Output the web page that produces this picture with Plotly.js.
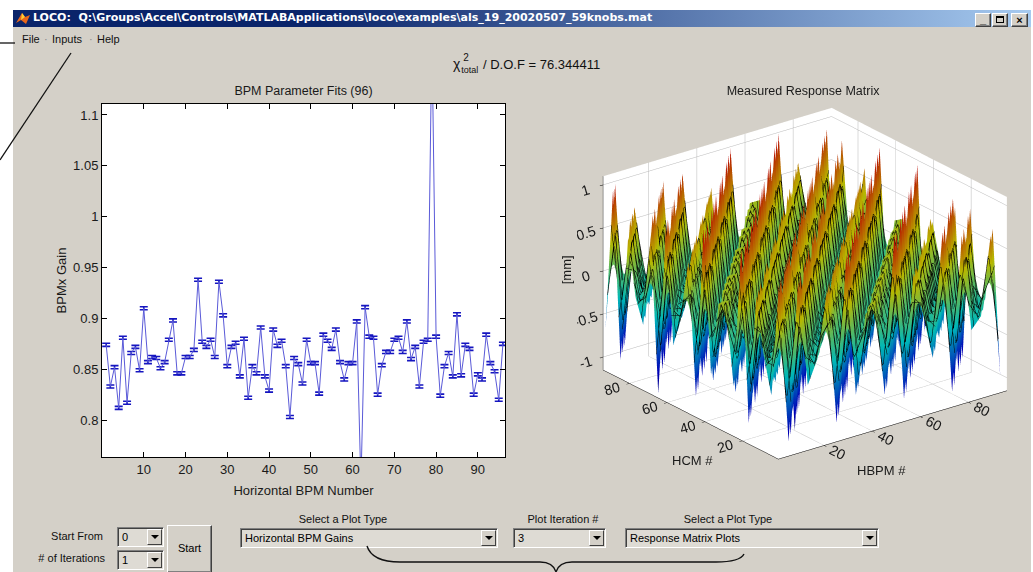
<!DOCTYPE html>
<html>
<head>
<meta charset="utf-8">
<script src="https://cdn.plot.ly/plotly-3.0.1.min.js"></script>
<style>
  body { margin:0; width:1033px; height:572px; position:relative; overflow:hidden; background:#fff;
         font-family:'Liberation Sans', Arial, sans-serif; }
  .abs { position:absolute; }
  .lbl { position:absolute; font-size:11px; color:#111; white-space:nowrap; }
  .dd { position:absolute; box-sizing:border-box; background:#dedbd4;
        border-top:1px solid #808080; border-left:1px solid #808080; border-bottom:1px solid #fff; border-right:1px solid #fff;
        box-shadow: inset 1px 1px 0 #404040; font-size:11px; color:#000; padding-left:4px; white-space:nowrap; }
  .arr { position:absolute; right:1px; top:1px; bottom:1px; width:15px; box-sizing:border-box; background:#d4d0c8;
         border-top:1px solid #fff; border-left:1px solid #fff; border-bottom:1px solid #404040; border-right:1px solid #404040; }
  .arr:after { content:''; position:absolute; left:3px; top:5px; border-left:4px solid transparent; border-right:4px solid transparent; border-top:4px solid #000; }
  .btn { position:absolute; box-sizing:border-box; background:#d4d0c8;
         border-top:1px solid #fff; border-left:1px solid #fff; border-bottom:1px solid #404040; border-right:1px solid #404040;
         box-shadow: inset -1px -1px 0 #808080; font-size:11px; text-align:center; }
</style>
</head>
<body>
<div class="abs" style="left:13px; top:10px; width:1018px; height:562px; background:#d4d0c8;"></div>
<div class="abs" style="left:13px; top:10px; width:1018px; height:17px; background:linear-gradient(to right,#0a246a 0%,#0a246a 30%,#a6caf0 100%);"></div>
<svg class="abs" style="left:15px; top:11px;" width="16" height="15" viewBox="0 0 16 15">
  <polygon points="1,12 7,2 10,6 15,4 11,13 6,9" fill="#e8661a"/>
  <polygon points="7,2 10,6 6,9" fill="#ffcc33"/>
</svg>
<div class="abs" style="left:33px; top:11px; font:bold 11px 'DejaVu Sans', Verdana, sans-serif; color:#fff; white-space:nowrap; letter-spacing:0px;">LOCO:&nbsp; Q:\Groups\Accel\Controls\MATLABApplications\loco\examples\als_19_20020507_59knobs.mat</div>
<div class="btn" style="left:975px; top:13px; width:16px; height:14px; font-weight:bold; line-height:10px;">_</div>
<div class="btn" style="left:992px; top:13px; width:16px; height:14px;"><div class="abs" style="left:3px; top:2px; width:8px; height:7px; border:1px solid #000; border-top-width:2px; box-sizing:border-box;"></div></div>
<div class="btn" style="left:1011px; top:13px; width:17px; height:14px; font-weight:bold; line-height:12px; font-size:11px;">×</div>
<div class="lbl" style="left:22px; top:33px;">File</div>
<div class="lbl" style="left:44px; top:33px; color:#888;">·</div>
<div class="lbl" style="left:52px; top:33px;">Inputs</div>
<div class="lbl" style="left:89px; top:33px; color:#888;">·</div>
<div class="lbl" style="left:97px; top:33px;">Help</div>
<div class="abs" style="left:453px; top:56px; font-size:13px; color:#111; white-space:nowrap;">
  <span style="font-size:14px;">χ</span><span style="position:relative; display:inline-block; width:19px; height:14px; vertical-align:top;">
    <span style="position:absolute; left:3px; top:-4px; font-size:10px;">2</span>
    <span style="position:absolute; left:1px; top:9px; font-size:9px;">total</span></span> / D.O.F = 76.344411
</div>

<div id="left" class="abs" style="left:30px; top:78px; width:490px; height:420px;"></div>
<div id="right" class="abs" style="left:555px; top:78px; width:478px; height:420px;"></div>

<div class="lbl" style="left:40px; top:530px; width:63px; text-align:right;">Start From</div>
<div class="lbl" style="left:20px; top:552px; width:85px; text-align:right;"># of Iterations</div>
<div class="dd" style="left:117px; top:527px; width:47px; height:20px; line-height:18px;">0<div class="arr"></div></div>
<div class="dd" style="left:117px; top:550px; width:47px; height:20px; line-height:18px;">1<div class="arr"></div></div>
<div class="btn" style="left:167px; top:525px; width:45px; height:48px; line-height:44px;">Start</div>
<div class="lbl" style="left:243px; top:513px; width:200px; text-align:center;">Select a Plot Type</div>
<div class="dd" style="left:240px; top:528px; width:258px; height:20px; line-height:18px;">Horizontal BPM Gains<div class="arr"></div></div>
<div class="lbl" style="left:503px; top:513px; width:120px; text-align:center;">Plot Iteration #</div>
<div class="dd" style="left:513px; top:528px; width:93px; height:20px; line-height:18px;">3<div class="arr"></div></div>
<div class="lbl" style="left:628px; top:513px; width:200px; text-align:center;">Select a Plot Type</div>
<div class="dd" style="left:625px; top:528px; width:254px; height:20px; line-height:18px;">Response Matrix Plots<div class="arr"></div></div>

<svg class="abs" style="left:0; top:0; pointer-events:none;" width="1033" height="572">
  <line x1="0" y1="43" x2="15" y2="43" stroke="#111" stroke-width="1.3"/>
  <line x1="71" y1="53" x2="0" y2="160" stroke="#111" stroke-width="1.3"/>
  <path d="M367 546 Q372 562 400 562 L540 562 Q553 562 556 572 Q559 562 572 562 L716 562 Q740 562 744 554" fill="none" stroke="#111" stroke-width="1.4"/>
</svg>

<script>
// ---------- Left chart data: BPM gains ----------
var bpmNumber = [1,2,3,4,5,6,7,8,9,10,11,12,13,14,15,16,17,18,19,20,21,22,23,24,25,26,27,28,29,30,31,32,
  33,34,35,36,37,38,39,40,41,42,43,44,45,46,47,48,49,50,51,52,53,54,55,56,57,58,59,60,61,62,63,64,
  65,66,67,68,69,70,71,72,73,74,75,76,77,78,79,80,81,82,83,84,85,86,87,88,89,90,91,92,93,94,95,96];
var bpmGain = [0.874,0.833,0.852,0.812,0.881,0.817,0.866,0.872,0.849,0.910,0.857,0.862,0.861,0.851,0.857,0.879,
  0.898,0.846,0.846,0.862,0.862,0.869,0.938,0.877,0.872,0.879,0.862,0.936,0.903,0.853,0.872,0.876,
  0.843,0.880,0.822,0.853,0.846,0.891,0.843,0.829,0.889,0.873,0.878,0.853,0.803,0.861,0.855,0.836,
  0.879,0.856,0.856,0.826,0.884,0.878,0.870,0.889,0.857,0.840,0.856,0.856,0.897,0.737,0.911,0.882,
  0.881,0.825,0.854,0.867,0.867,0.879,0.881,0.867,0.897,0.860,0.872,0.833,0.877,0.879,1.180,0.882,
  0.824,0.853,0.866,0.843,0.904,0.844,0.874,0.870,0.825,0.845,0.840,0.884,0.856,0.848,0.820,0.875];
var gainError = 0.0015;
var xTickVals = [10,20,30,40,50,60,70,80,90];
var yTickVals = [0.8,0.85,0.9,0.95,1,1.05,1.1];
var yTickText = ['0.8','0.85','0.9','0.95','1','1.05','1.1'];

// ---------- Right chart data: measured response matrix (estimated, coarse grid) ----------
var hbpm = [2,6,10,14,18,22,26,30,34,38,42,46,50,54,58,62,66,70,74,78,82,86,90,94];
var hcm  = [2,6,10,14,18,22,26,30,34,38,42,46,50,54,58,62,66,70,74,78,82,86,90,94];
var respMatrix = [
 [0.87,-1.0,0.83,-0.41,-0.14,0.64,-0.95,0.97,-0.69,0.21,0.34,-0.79,1.05,-0.90,0.53,0.0,-0.53,0.90,-0.99,0.79,-0.34,-0.21,0.69,-0.97],
 [-0.47,0.87,-1.0,0.83,-0.41,-0.14,0.64,-0.95,0.97,-0.69,0.21,0.34,-0.79,0.99,-0.90,0.53,0.0,-0.53,0.90,-0.99,0.79,-0.34,-0.21,0.69],
 [-0.06,-0.38,0.70,-0.80,0.66,-0.33,-0.11,0.51,-0.76,0.78,-0.55,0.17,0.27,-0.63,0.79,-0.72,0.42,0.0,-0.42,0.72,-0.79,0.63,-0.27,-0.17],
 [0.59,-0.07,-0.47,0.87,-1.1,0.83,-0.41,-0.14,0.64,-0.95,0.97,-0.69,0.21,0.34,-0.79,0.99,-0.90,0.53,0.0,-0.53,0.90,-0.99,0.79,-0.34],
 [-0.93,0.59,-0.07,-0.47,0.87,-1.0,0.83,-0.41,-0.14,0.64,-0.95,0.97,-0.69,0.21,0.34,-0.79,0.99,-0.90,0.53,0.0,-0.53,0.90,-0.99,0.79],
 [1.05,-0.93,0.59,-0.07,-0.47,0.87,-1.0,0.83,-0.41,-0.14,0.64,-0.95,0.97,-0.69,0.21,0.34,-0.79,0.99,-0.90,0.53,0.0,-0.53,0.90,-0.99],
 [-0.59,0.78,-0.74,0.47,-0.06,-0.38,0.70,-0.80,0.66,-0.33,-0.11,0.51,-0.76,0.78,-0.55,0.17,0.27,-0.63,0.79,-0.72,0.42,0.0,-0.42,0.72],
 [0.28,-0.74,0.98,-0.93,0.59,-0.07,-0.47,0.87,-1.0,0.83,-0.41,-0.14,0.64,-0.95,0.97,-0.69,0.21,0.34,-0.79,0.99,-0.90,0.53,0.0,-0.53],
 [0.28,0.28,-0.74,0.98,-0.93,0.59,-0.07,-0.47,0.87,-1.0,0.83,-0.41,-0.14,0.64,-0.95,0.97,-0.69,0.21,0.34,-0.79,0.99,-0.90,0.53,0.0],
 [-0.59,0.22,0.22,-0.59,0.78,-0.74,0.47,-0.06,-0.38,0.70,-0.80,0.66,-0.33,-0.11,0.51,-0.76,0.78,-0.55,0.17,0.27,-0.63,0.79,-0.72,0.42],
 [1.06,-0.74,0.28,0.28,-0.74,0.98,-0.93,0.59,-0.07,-0.47,0.87,-1.0,0.83,-0.41,-0.14,0.64,-0.95,0.97,-0.69,0.21,0.34,-0.79,0.99,-0.90],
 [-0.93,0.98,-0.74,0.28,0.28,-0.74,0.98,-0.93,0.59,-0.07,-0.47,0.87,-1.0,0.83,-0.41,-0.14,0.64,-0.95,0.97,-0.69,0.21,0.34,-0.79,0.99],
 [0.59,-0.93,0.98,-0.74,0.28,0.28,-0.74,0.98,-0.93,0.59,-0.07,-0.47,0.87,-1.0,0.83,-0.41,-0.14,0.64,-0.95,0.97,-0.69,0.21,0.34,-0.79],
 [-0.06,0.47,-0.74,0.78,-0.59,0.22,0.22,-0.59,0.78,-0.74,0.47,-0.06,-0.38,0.70,-0.80,0.66,-0.33,-0.11,0.51,-0.76,0.78,-0.55,0.17,0.27],
 [-0.47,-0.07,0.59,-0.93,0.98,-0.74,0.28,0.28,-0.74,0.98,-0.93,0.59,-0.07,-0.47,0.87,-1.0,0.83,-0.41,-0.14,0.64,-0.95,0.97,-0.69,0.21],
 [0.87,-0.47,-0.07,0.59,-0.93,0.98,-0.74,0.28,0.28,-0.74,0.98,-0.93,0.59,-0.07,-0.47,0.87,-1.0,0.83,-0.41,-0.14,0.64,-0.95,0.97,-0.69],
 [-1.12,0.87,-0.47,-0.07,0.59,-0.93,0.98,-0.74,0.28,0.28,-0.74,0.98,-0.93,0.59,-0.07,-0.47,0.87,-1.0,0.83,-0.41,-0.14,0.64,-0.95,0.97],
 [0.66,-0.80,0.70,-0.38,-0.06,0.47,-0.74,0.78,-0.59,0.22,0.22,-0.59,0.78,-0.74,0.47,-0.06,-0.38,0.70,-0.80,0.66,-0.33,-0.11,0.51,-0.76],
 [-0.41,0.83,-1.0,0.87,-0.47,-0.07,0.59,-0.93,0.98,-0.74,0.28,0.28,-0.74,0.98,-0.93,0.59,-0.07,-0.47,0.87,-1.0,0.83,-0.41,-0.14,0.64],
 [-0.14,-0.41,0.83,-1.0,0.87,-0.47,-0.07,0.59,-0.93,0.98,-0.74,0.28,0.28,-0.74,0.98,-0.93,0.59,-0.07,-0.47,0.87,-1.0,0.83,-0.41,-0.14],
 [0.51,-0.11,-0.33,0.66,-0.86,0.70,-0.38,-0.06,0.47,-0.74,0.78,-0.59,0.22,0.22,-0.59,0.78,-0.74,0.47,-0.06,-0.38,0.70,-0.80,0.66,-0.33],
 [-0.95,0.64,-0.14,-0.41,0.83,-1.0,0.87,-0.47,-0.07,0.59,-0.93,0.98,-0.74,0.28,0.28,-0.74,0.98,-0.93,0.59,-0.07,-0.47,0.87,-1.0,0.83],
 [0.97,-0.95,0.64,-0.14,-0.41,0.83,-1.0,0.87,-0.47,-0.07,0.59,-0.93,0.98,-0.74,0.28,0.28,-0.74,0.98,-0.93,0.59,-0.07,-0.47,0.87,-1.0],
 [-0.69,0.97,-0.95,0.64,-0.14,-0.41,0.83,-1.0,0.87,-0.47,-0.07,0.59,-0.93,0.98,-0.74,0.28,0.28,-0.74,0.98,-0.93,0.59,-0.07,-0.47,0.87]
];
var axTicks3d = [20,40,60,80];
var zTickVals = [-1,-0.5,0,0.5,1];
var zTickText = ['-1','-0.5','0','0.5','1'];

var FONT = 'Liberation Sans, Arial, sans-serif';

Plotly.newPlot('left', [{
  type:'scatter', mode:'lines', x:bpmNumber, y:bpmGain,
  line:{color:'#5a5ad8', width:1},
  error_y:{type:'constant', value:gainError, visible:true, color:'#1515c0', thickness:1.6, width:4},
  hoverinfo:'skip'
}], {
  width:490, height:420, margin:{l:72, r:15, t:26, b:41, pad:0},
  paper_bgcolor:'rgba(0,0,0,0)', plot_bgcolor:'#ffffff', showlegend:false,
  font:{family:FONT, size:13, color:'#1a1a1a'},
  title:{text:'BPM Parameter Fits (96)', x:0.5, xref:'paper', xanchor:'center', y:0.971, yref:'container', yanchor:'middle', font:{size:12.5, color:'#1a1a1a'}},
  xaxis:{range:[0,96.5], tickvals:xTickVals, ticks:'inside', ticklen:5, tickcolor:'#000', showline:true, mirror:'ticks',
         linecolor:'#000', linewidth:1, showgrid:false, zeroline:false, tickfont:{size:13},
         title:{text:'Horizontal BPM Number', font:{size:13}}},
  yaxis:{range:[0.7637,1.1108], tickvals:yTickVals, ticktext:yTickText, ticks:'inside', ticklen:5, tickcolor:'#000', showline:true, mirror:'ticks',
         linecolor:'#000', linewidth:1, showgrid:false, zeroline:false, tickfont:{size:13},
         title:{text:'BPMx Gain', font:{size:13}}}
}, {staticPlot:true, displayModeBar:false});

var jet = [[0,'#00008f'],[0.125,'#0000ff'],[0.375,'#00ffff'],[0.625,'#ffff00'],[0.875,'#ff0000'],[1,'#800000']];
var ax3 = function(range, tv, tt){
  return {title:{text:''}, range:range, tickvals:tv, ticktext:tt,
    tickfont:{size:13, color:'#1a1a1a'}, showbackground:true, backgroundcolor:'#ffffff',
    gridcolor:'#b8b8b8', gridwidth:1, showline:true, linecolor:'#000', linewidth:1, zeroline:false,
    showspikes:false, ticks:'outside', ticklen:4, tickcolor:'#000'};
};
Plotly.newPlot('right', [{
  type:'surface', x:hbpm, y:hcm, z:respMatrix, colorscale:jet, cmin:-1.2, cmax:1.3, showscale:false,
  lighting:{ambient:0.72, diffuse:0, specular:0, roughness:1, fresnel:0},
  contours:{x:{show:true, start:1, end:96, size:2, color:'#000', width:2, highlight:false},
            y:{show:true, start:1, end:94, size:2, color:'#000', width:2, highlight:false}, z:{highlight:false}},
  hoverinfo:'skip'
}], {
  width:478, height:420, margin:{l:0, r:0, t:0, b:0}, hovermode:false,
  paper_bgcolor:'rgba(0,0,0,0)', font:{family:FONT, size:13, color:'#1a1a1a'},
  title:{text:'Measured Response Matrix', x:0.519, xref:'paper', xanchor:'center', y:0.971, yref:'container', yanchor:'middle', font:{size:12.5}},
  annotations:[
    {text:'HCM #', xref:'paper', yref:'paper', x:0.241, y:0.067, showarrow:false, font:{size:13}},
    {text:'HBPM #', xref:'paper', yref:'paper', x:0.738, y:0.043, showarrow:false, font:{size:13}},
    {text:'[mm]', xref:'paper', yref:'paper', x:0.006, y:0.543, showarrow:false, textangle:-90, font:{size:13}}
  ],
  scene:{
    domain:{x:[0.046,1], y:[0.06,0.962]}, bgcolor:'rgba(0,0,0,0)', dragmode:false,
    aspectmode:'manual', aspectratio:{x:1.52, y:1.52, z:1.11},
    camera:{eye:{x:-1.12, y:-1.46, z:0.78}, center:{x:0,y:0,z:0}, up:{x:0,y:0,z:1}, projection:{type:'orthographic'}},
    xaxis:ax3([1,96], axTicks3d, ['20','40','60','80']),
    yaxis:ax3([1,94], axTicks3d, ['20','40','60','80']),
    zaxis:ax3([-1.15,1.1], zTickVals, zTickText)
  }
}, {displayModeBar:false});
</script>
</body>
</html>
